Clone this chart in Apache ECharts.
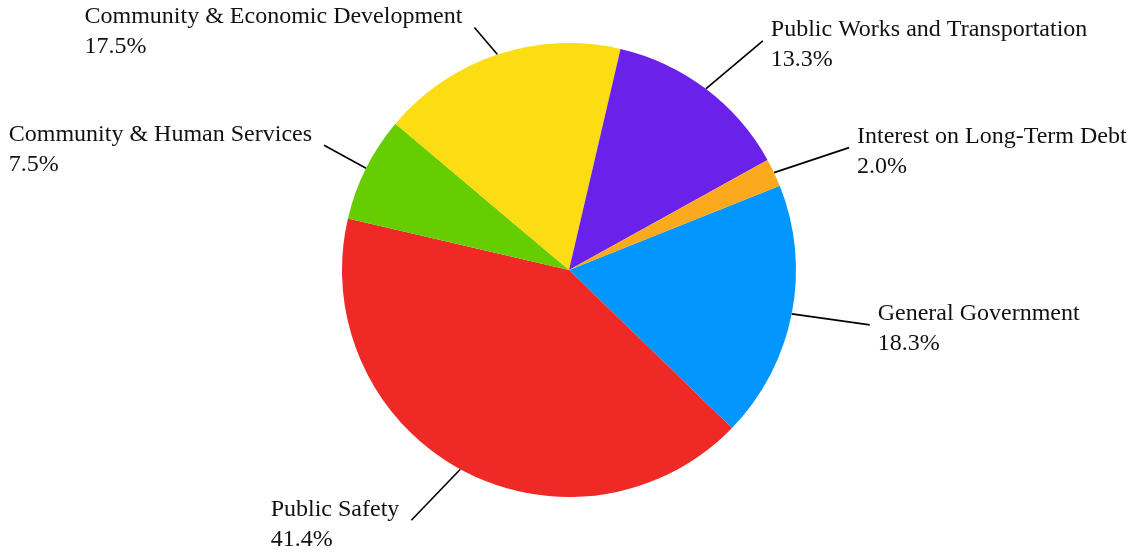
<!DOCTYPE html>
<html>
<head>
<meta charset="utf-8">
<script src="https://cdn.jsdelivr.net/npm/echarts@6/dist/echarts.min.js"></script>
<style>html,body{margin:0;padding:0;background:#fff}#chart{width:1135px;height:552px}</style>
</head>
<body>
<div id="chart"></div>
<script>
// Data (clockwise order)
const categories = ['General Government', 'Public Safety', 'Community & Human Services', 'Community & Economic Development', 'Public Works and Transportation', 'Interest on Long-Term Debt'];
const shares = [18.3, 41.4, 7.5, 17.5, 13.3, 2.0];
const colors = ['#0396FF', '#EE2926', '#66CD00', '#FCDC12', '#6A22EA', '#FBAA1E'];

// Label line offsets (layout only)
const lineVec = [[78, 11], [-49, 51], [-42, -23], [-23, -27], [57, -48], [75, -25]];

const chart = echarts.init(document.getElementById('chart'), null, {renderer: 'canvas'});
chart.setOption({
  animation: false,
  backgroundColor: '#ffffff',
  color: colors,
  series: [{
    type: 'pie',
    center: [569, 270],
    radius: [0, 227],
    startAngle: 21.8,
    clockwise: true,
    avoidLabelOverlap: false,
    emphasis: {disabled: true},
    itemStyle: {borderWidth: 0},
    label: {
      show: true,
      position: 'outside',
      fontFamily: 'Liberation Serif',
      fontSize: 24,
      lineHeight: 30,
      color: '#111',
      formatter: p => p.name + '\n' + p.value.toFixed(1) + '%'
    },
    labelLine: {show: true, length: 10, length2: 0, lineStyle: {color: '#000', width: 1.6}},
    labelLayout: function (params) {
      const i = params.dataIndex;
      const p0 = params.labelLinePoints[0];
      const v = lineVec[i];
      const end = [p0[0] + v[0], p0[1] + v[1]];
      const right = v[0] > 0;
      const x = right ? end[0] + 8 : end[0] - 12 - params.labelRect.width;
      return {
        x: x, y: end[1] + 4, align: 'left', verticalAlign: 'middle',
        labelLinePoints: [p0, end]
      };
    },
    data: categories.map((c, i) => ({name: c, value: shares[i]}))
  }]
});
</script>
</body>
</html>
